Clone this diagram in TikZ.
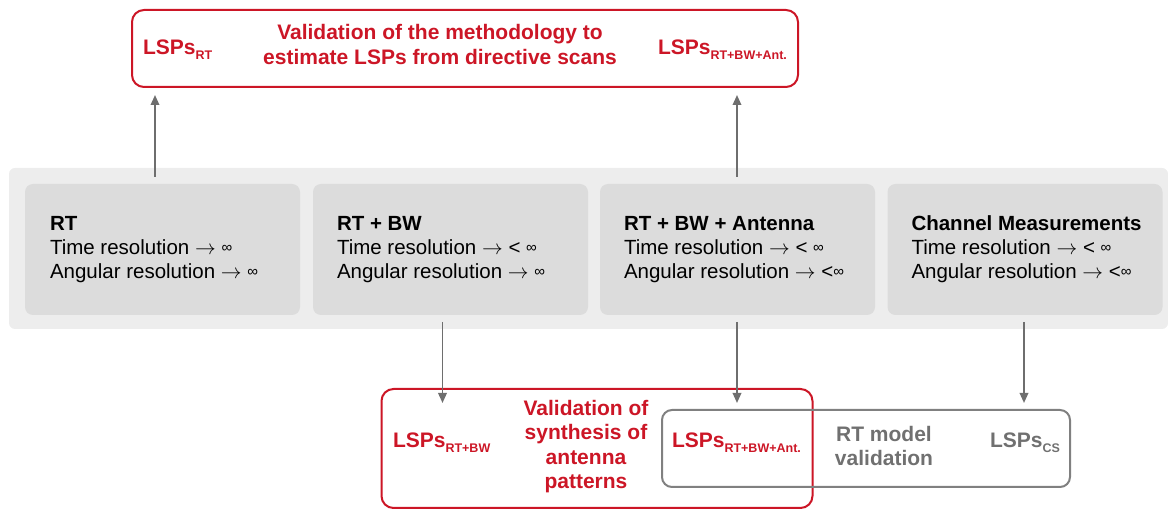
\documentclass[tikz,border=0pt]{standalone}
\usepackage{fontspec}
\setmainfont{Liberation Sans}
\usetikzlibrary{arrows.meta}
\definecolor{myred}{RGB}{204,22,38}
\definecolor{stripgray}{RGB}{237,237,237}
\definecolor{boxgray}{RGB}{220,220,220}
\definecolor{txtgray}{RGB}{112,112,112}
\definecolor{framegray}{RGB}{128,128,128}
\definecolor{arrgray}{RGB}{110,110,110}
\newcommand\lspsub[1]{LSPs\raisebox{-5pt}{\fontsize{12.5}{13}\selectfont #1}}
\newcommand\infsym{\raisebox{2pt}{\fontsize{15}{15}\selectfont ∞}}
\newcommand\rarr{$\rightarrow$}
\begin{document}
\begin{tikzpicture}[x=1pt,y=-1pt,
 every node/.style={inner sep=0pt,outer sep=0pt},
 stagebox/.style={fill=boxgray, rounded corners=8pt, minimum width=275pt, minimum height=131pt},
 stagetext/.style={anchor=west, align=left, font=\fontsize{20.5}{24}\selectfont},
 redframe/.style={draw=myred, line width=2pt, rounded corners=12pt},
 grayframe/.style={draw=framegray, line width=2pt, rounded corners=10pt},
 redtxt/.style={text=myred, font=\bfseries\fontsize{21}{24.5}\selectfont, align=center},
 graytxt/.style={text=txtgray, font=\bfseries\fontsize{21}{24.5}\selectfont, align=center},
 arr/.style={draw=arrgray, line width=1.8pt, -{Triangle[width=8.5pt,length=10pt]}}]
\useasboundingbox (0,0) rectangle (1168,510);

% background strip
\node[fill=stripgray, rounded corners=6pt, minimum width=1159pt, minimum height=161pt] (strip) at (588.5,248.5) {};

% stage boxes
\node[stagebox] (b1) at (162.5,249.5) {};
\node[stagebox] (b2) at (450.5,249.5) {};
\node[stagebox] (b3) at (737.5,249.5) {};
\node[stagebox] (b4) at (1025,249.5) {};

\node[stagetext] (t1) at ([xshift=25pt]b1.west) {\textbf{RT}\\Time resolution \rarr{} \infsym\\Angular resolution \rarr{} \infsym};
\node[stagetext] (t2) at ([xshift=24pt]b2.west) {\textbf{RT + BW}\\Time resolution \rarr{} < \infsym\\Angular resolution \rarr{} \infsym};
\node[stagetext] (t3) at ([xshift=24pt]b3.west) {\textbf{RT + BW + Antenna}\\Time resolution \rarr{} < \infsym\\Angular resolution \rarr{} <\infsym};
\node[stagetext] (t4) at ([xshift=24pt]b4.west) {\textbf{Channel Measurements}\\Time resolution \rarr{} < \infsym\\Angular resolution \rarr{} <\infsym};

% top frame
\node[redframe, minimum width=666pt, minimum height=77pt] (top) at (465,48.5) {};
\node[redtxt, anchor=base west] (tl) at (143,55) {\lspsub{RT}};
\node[redtxt] (tc) at (440,44.5) {Validation of the methodology to\\estimate LSPs from directive scans};
\node[redtxt, anchor=base west] (tr) at (658,55) {\lspsub{RT+BW+Ant.}};

% bottom frames
\node[redframe, minimum width=431pt, minimum height=119pt] (bred) at (597,448.5) {};
\node[grayframe, minimum width=408pt, minimum height=77pt] (bgray) at (866,448.5) {};
\node[redtxt, anchor=base west] (bl) at (393,448) {\lspsub{RT+BW}};
\node[redtxt] (bc) at (586,446.5) {Validation of\\synthesis of\\antenna\\patterns};
\node[redtxt, anchor=base west] (bm) at (672,448) {\lspsub{RT+BW+Ant.}};
\node[graytxt] (rtm) at (884,446) {RT model\\validation};
\node[graytxt, anchor=base west] (cs) at (990,448) {\lspsub{CS}};

% arrow end points
\coordinate (u1) at (155,177);
\coordinate (u2) at (737,177);
\coordinate (u1e) at (155,95);
\coordinate (u2e) at (737,95);
\coordinate (d1) at (442.5,322);
\coordinate (d2) at (737,322);
\coordinate (d3) at (1024,322);
\coordinate (d1e) at (442.5,403);
\coordinate (d2e) at (737,403);
\coordinate (d3e) at (1024,403);

\draw[arr] (u1) -- (u1e);
\draw[arr] (u2) -- (u2e);
\draw[arr] (d1) -- (d1e);
\draw[arr] (d2) -- (d2e);
\draw[arr] (d3) -- (d3e);
\end{tikzpicture}
\end{document}
